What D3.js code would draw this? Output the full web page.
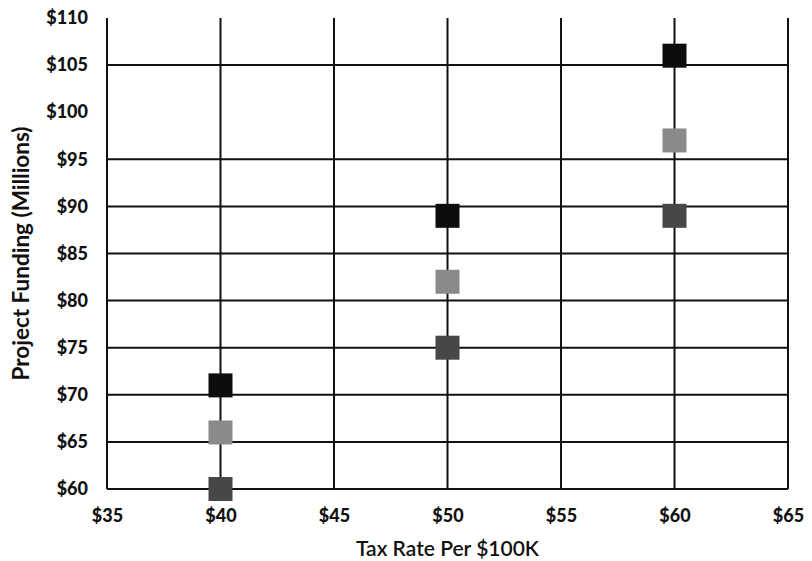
<!DOCTYPE html>
<html><head><meta charset="utf-8">
<script src="https://cdn.jsdelivr.net/npm/d3@7"></script>
<style>body{margin:0;background:#fff}svg{display:block}</style>
</head><body><svg id="c" width="812" height="561"></svg>
<script>
const taxRates = [40, 50, 60];
const seriesNames = ["High", "Medium", "Low"];
const highFunding = [71, 89, 106];
const midFunding = [66, 82, 97];
const lowFunding = [60, 75, 89];
const seriesColors = ["#0d0d0d", "#8a8a8a", "#474747"];
const xTicks = [35, 40, 45, 50, 55, 60, 65];
const yTicks = [60, 65, 70, 75, 80, 85, 90, 95, 100, 105, 110];
const hGridValues = [60, 65, 70, 75, 80, 85, 90, 95, 105];

const svg = d3.select("#c");
const L = 107, R = 788, T = 18, B = 489;
const x = d3.scaleLinear().domain([35, 65]).range([L, R]);
const y = d3.scaleLinear().domain([60, 110]).range([B, T]);
const font = "Lato, 'Open Sans', sans-serif";

svg.append("g").selectAll("line").data(xTicks).join("line")
  .attr("x1", d => x(d)).attr("x2", d => x(d)).attr("y1", T).attr("y2", B)
  .attr("stroke", "#111").attr("stroke-width", 2);
svg.append("g").selectAll("line").data(hGridValues).join("line")
  .attr("x1", L).attr("x2", R).attr("y1", d => y(d)).attr("y2", d => y(d))
  .attr("stroke", "#111").attr("stroke-width", 2);

const xAxis = d3.axisBottom(x).tickValues(xTicks).tickSize(0).tickPadding(20).tickFormat(d => "$" + d);
svg.append("g").attr("transform", `translate(0,${B})`).call(xAxis)
  .call(g => g.select(".domain").remove())
  .selectAll("text").attr("font-family", font).attr("font-weight", 900).attr("font-size", 18).attr("fill", "#111");
const yAxis = d3.axisLeft(y).tickValues(yTicks).tickSize(0).tickPadding(19).tickFormat(d => "$" + d);
svg.append("g").attr("transform", `translate(${L},0)`).call(yAxis)
  .call(g => g.select(".domain").remove())
  .selectAll("text").attr("font-family", font).attr("font-weight", 900).attr("font-size", 18).attr("fill", "#111");

const all = [highFunding, midFunding, lowFunding];
const sz = 24;
all.forEach((vals, i) => {
  svg.append("g").selectAll("rect").data(vals.map((v, j) => ({x: taxRates[j], y: v}))).join("rect")
    .attr("x", d => x(d.x) - sz / 2).attr("y", d => y(d.y) - sz / 2)
    .attr("width", sz).attr("height", sz).attr("fill", seriesColors[i]);
});

svg.append("text").attr("x", (L + R) / 2).attr("y", 556).attr("text-anchor", "middle")
  .attr("font-family", font).attr("font-weight", 600).attr("font-size", 21).attr("fill", "#111")
  .text("Tax Rate Per $100K");
svg.append("text").attr("transform", `translate(29,${(T + B) / 2}) rotate(-90)`).attr("text-anchor", "middle")
  .attr("font-family", font).attr("font-weight", "bold").attr("font-size", 22.5).attr("fill", "#111")
  .text("Project Funding (Millions)");
</script></body></html>
